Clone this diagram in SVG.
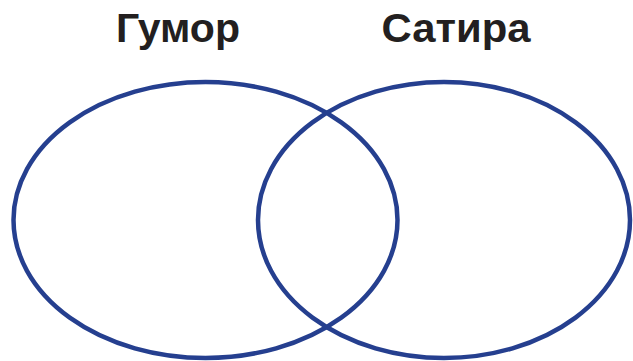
<svg xmlns="http://www.w3.org/2000/svg" width="633" height="361" viewBox="0 0 633 361">
<style>
.c{fill:none;stroke:#253f8f;stroke-width:4.5}
.t{font-family:"Liberation Sans",Arial,sans-serif;font-weight:bold;font-size:40px;fill:#231f20;text-anchor:middle}
</style>
<rect width="633" height="361" fill="#fff"/>
<g id="humor">
<ellipse class="c" cx="205.5" cy="220" rx="192" ry="138"/>
<text class="t" x="178" y="42" textLength="124" lengthAdjust="spacingAndGlyphs">Гумор</text>
</g>
<g id="satire">
<ellipse class="c" cx="444" cy="220" rx="186" ry="138"/>
<text class="t" x="456" y="42" textLength="149" lengthAdjust="spacingAndGlyphs">Сатира</text>
</g>
<g id="connectors"/>
</svg>
